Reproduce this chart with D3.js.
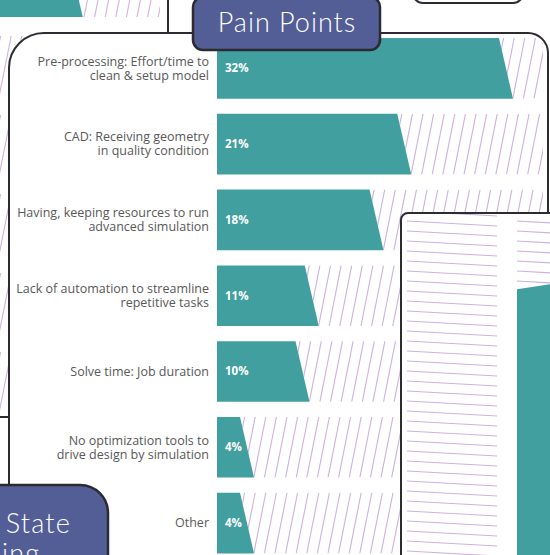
<!DOCTYPE html>
<html>
<head>
<meta charset="utf-8">
<script src="https://cdn.jsdelivr.net/npm/d3@7"></script>
<style>
  html, body { margin: 0; padding: 0; background: #fff; }
  svg { display: block; }
</style>
</head>
<body>
<svg id="chart" width="550" height="555"></svg>
<script>
// Pain points: share of respondents naming each issue
const categories = [
  "Pre-processing: Effort/time to\nclean & setup model",
  "CAD: Receiving geometry\nin quality condition",
  "Having, keeping resources to run\nadvanced simulation",
  "Lack of automation to streamline\nrepetitive tasks",
  "Solve time: Job duration",
  "No optimization tools to\ndrive design by simulation",
  "Other"
];
const values = [32, 21, 18, 11, 10, 4, 4];
const valueLabels = values.map(v => v + "%");

// Neighbouring panels of the dashboard (only partly in view)
const backRows = ["b1", "b2", "b3", "b4", "b5", "b6"];
const backValues = [23, 12, 10, 8, 6, 4];
const columnCats = ["c1", "c2"];
const columnValues = [30, 88];

const panelTitle = "Pain Points";
const sideTitle = ["Current State", "Mapping"];

const TEAL = "#41a09f", SLATE = "#535e96", EDGE = "#2b2b31", HATCH = "#cdb2de";
const svg = d3.select("#chart");
const defs = svg.append("defs");
let clipId = 0;

// diagonal "/" hatching clipped to a polygon
function diagHatch(g, poly, top, bottom, x0, x1, step, lean) {
  const id = "clip" + (clipId++);
  defs.append("clipPath").attr("id", id)
    .append("polygon").attr("points", poly.map(p => p.join(",")).join(" "));
  const xs = d3.range(x0 - lean, x1 + step, step);
  g.append("g").attr("clip-path", `url(#${id})`)
    .selectAll("line").data(xs).join("line")
    .attr("x1", d => d).attr("y1", bottom)
    .attr("x2", d => d + lean).attr("y2", top)
    .attr("stroke", HATCH).attr("stroke-width", 1.1);
}

// shallow "\" hatching clipped to a polygon
function flatHatch(g, poly, x0, x1, y0, y1, step, drop) {
  const id = "clip" + (clipId++);
  defs.append("clipPath").attr("id", id)
    .append("polygon").attr("points", poly.map(p => p.join(",")).join(" "));
  const ys = d3.range(y0, y1, step);
  g.append("g").attr("clip-path", `url(#${id})`)
    .selectAll("line").data(ys).join("line")
    .attr("x1", x0).attr("y1", d => d)
    .attr("x2", x1).attr("y2", d => d + drop)
    .attr("stroke", HATCH).attr("stroke-width", 1.1);
}

// ---------- panel behind, top left ----------
const back = svg.append("g");
back.append("rect").attr("x", -40).attr("y", -40).attr("width", 208).attr("height", 457)
  .attr("rx", 20).attr("fill", "#fff").attr("stroke", EDGE).attr("stroke-width", 2);
const xb = d3.scaleLinear().domain([0, 35]).range([-130, 193.75]);
const yb = d3.scaleBand().domain(backRows).range([-43, 412]).paddingInner(0.2405);
backRows.forEach((r, i) => {
  const t = yb(r), b = t + yb.bandwidth(), xe = xb(backValues[i]);
  diagHatch(back, [[xe - 14, t], [160, t], [160, b], [xe, b]], t, b, -10, 160, 10.6, 12);
  back.append("polygon")
    .attr("points", [[xb(0), t], [xe - 14, t], [xe, b], [xb(0), b]].map(p => p.join(",")).join(" "))
    .attr("fill", TEAL);
});

// ---------- panel outline, top right ----------
svg.append("rect").attr("x", 413).attr("y", -30).attr("width", 110).attr("height", 33)
  .attr("rx", 10).attr("fill", "#fff").attr("stroke", EDGE).attr("stroke-width", 2);

// ---------- main panel ----------
svg.append("path")
  .attr("d", "M9,560 L9,68 A35,35 0 0 1 44,33 L528,33 A20,20 0 0 1 548,53 L548,560 Z")
  .attr("fill", "#fff").attr("stroke", EDGE).attr("stroke-width", 2);

const x = d3.scaleLinear().domain([0, 35]).range([217, 540.75]);
const y = d3.scaleBand().domain(categories).range([38, 553.4]).paddingInner(0.2).paddingOuter(0);
const SLANT = 14;
const main = svg.append("g");

categories.forEach((c, i) => {
  const t = y(c), b = t + y.bandwidth(), xe = x(values[i]);
  diagHatch(main, [[xe - SLANT, t], [543, t], [543, b], [xe, b]], t, b, xe - 20, 545, 10.6, 12);
});

main.selectAll("polygon.bar").data(categories).join("polygon")
  .attr("class", "bar")
  .attr("points", (c, i) => {
    const t = y(c), b = t + y.bandwidth(), xe = x(values[i]);
    return [[x(0), t], [xe - SLANT, t], [xe, b], [x(0), b]].map(p => p.join(",")).join(" ");
  })
  .attr("fill", TEAL);

main.selectAll("text.val").data(categories).join("text")
  .attr("class", "val")
  .attr("x", x(0) + 8)
  .attr("y", c => y(c) + y.bandwidth() / 2 + 4)
  .attr("font-family", "'Open Sans', sans-serif")
  .attr("font-weight", 700)
  .attr("font-size", 11.5)
  .attr("fill", "#fff")
  .text((c, i) => valueLabels[i]);

main.selectAll("text.cat").data(categories).join("text")
  .attr("class", "cat")
  .attr("text-anchor", "end")
  .attr("font-family", "'Open Sans', sans-serif")
  .attr("font-size", 12.5)
  .attr("fill", "#585858")
  .each(function (c) {
    const lines = c.split("\n");
    const mid = y(c) + y.bandwidth() / 2;
    const first = mid + 4.3 - (lines.length - 1) * 7;
    d3.select(this).selectAll("tspan").data(lines).join("tspan")
      .attr("x", 209)
      .attr("y", (d, k) => first + k * 14)
      .text(d => d);
  });

// ---------- title tab ----------
svg.append("rect").attr("x", 193).attr("y", -3).attr("width", 187).attr("height", 53)
  .attr("rx", 10).attr("fill", SLATE).attr("stroke", EDGE).attr("stroke-width", 2.5);
svg.append("text").attr("x", 287).attr("y", 32)
  .attr("text-anchor", "middle")
  .attr("font-family", "Lato, sans-serif").attr("font-weight", 300)
  .attr("font-size", 27).attr("letter-spacing", 1).attr("fill", "#fff")
  .text(panelTitle);

// ---------- panel in front, right ----------
const right = svg.append("g");
right.append("rect").attr("x", 401).attr("y", 213).attr("width", 200).attr("height", 400)
  .attr("rx", 7).attr("fill", "#fff").attr("stroke", EDGE).attr("stroke-width", 2);
const xc = d3.scaleBand().domain(columnCats).range([407, 607]).paddingInner(20 / 110).paddingOuter(0);
const yc = d3.scaleLinear().domain([0, 100]).range([805, 219]);
const TILT = 13.5;
const inner = right.append("g");
const innerClip = "clip" + (clipId++);
defs.append("clipPath").attr("id", innerClip)
  .append("rect").attr("x", 402).attr("y", 214).attr("width", 200).attr("height", 400);
inner.attr("clip-path", `url(#${innerClip})`);
columnCats.forEach((c, i) => {
  const l = xc(c), r = l + xc.bandwidth(), yt = yc(columnValues[i]);
  flatHatch(inner, [[l, yc(100)], [r, yc(100) - TILT], [r, yt - TILT], [l, yt]],
    l, r, 201, 600, 10, 5);
  inner.append("polygon")
    .attr("points", [[l, yt], [r, yt - TILT], [r, yc(0)], [l, yc(0)]].map(p => p.join(",")).join(" "))
    .attr("fill", TEAL);
});

// ---------- side tab, bottom left ----------
svg.append("path")
  .attr("d", "M-20,570 L-20,485 L80,485 A28,28 0 0 1 108,513 L108,570 Z")
  .attr("fill", SLATE).attr("stroke", EDGE).attr("stroke-width", 2.5);
const side = svg.append("text")
  .attr("font-family", "Lato, sans-serif").attr("font-weight", 300)
  .attr("font-size", 27).attr("letter-spacing", 1.2)
  .attr("fill", "#fff").attr("text-anchor", "middle");
const t1 = side.append("tspan").attr("y", 533).text(sideTitle[0]);
const w1 = t1.node().getComputedTextLength();
const cx = 71 - w1 / 2;
t1.attr("x", cx);
side.append("tspan").attr("x", cx).attr("y", 563).text(sideTitle[1]);
</script>
</body>
</html>
